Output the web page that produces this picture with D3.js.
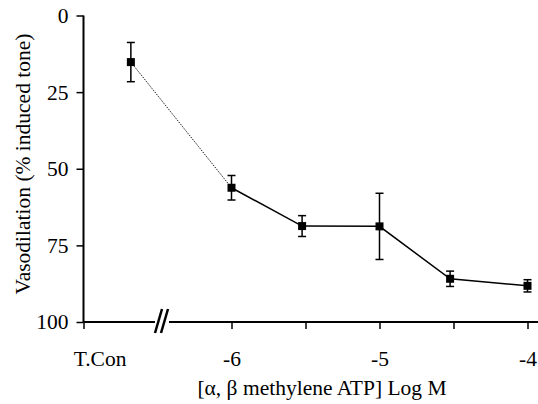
<!DOCTYPE html>
<html>
<head>
<meta charset="utf-8">
<script src="https://cdn.jsdelivr.net/npm/d3@7"></script>
</head>
<body style="margin:0">
<script>
// data
var tconX = -6.68;
var tconMean = 15.2;
var tconErr = 6.4;

var logM = [-6, -5.523, -5, -4.523, -4];
var meanTone = [56.2, 68.7, 68.8, 85.9, 88.2];
var semTone = [4.0, 3.4, 10.8, 2.5, 2.0];

var xTickVals = [-7, -6, -5.5, -5, -4.5, -4];
var xTickLabels = ["T.Con", "-6", "", "-5", "", "-4"];
var yTickVals = [0, 25, 50, 75, 100];

var fontFam = "Liberation Serif";
var fontSize = 21.5;

var svgWidth = 538;
var svgHeight = 404;

var svg = d3.select("body")
    .append("svg")
    .attr("width", svgWidth)
    .attr("height", svgHeight)
    .attr("font-family", fontFam)
    .attr("font-size", fontSize);

var xScale = d3.scaleLinear()
    .domain([-7, -4])
    .range([83.5, 527.5]);

var yScale = d3.scaleLinear()
    .domain([0, 100])
    .range([15.5, 322]);

// y axis
var leftAxis = d3.axisLeft(yScale)
    .tickValues(yTickVals)
    .tickSize(7)
    .tickPadding(8)
    .tickFormat(d3.format("d"));

var yAxisG = svg.append("g")
    .attr("transform", `translate(${xScale(-7)}, 0)`)
    .call(leftAxis);
yAxisG.attr("font-family", fontFam).attr("font-size", fontSize);
yAxisG.select(".domain").remove();
yAxisG.append("line")
    .attr("y1", yScale(0)).attr("y2", yScale(100))
    .attr("stroke", "#000").attr("stroke-width", 2);
yAxisG.selectAll(".tick line").attr("stroke-width", 1.5);

// x axis, with a break after T.Con
var bottomAxis = d3.axisBottom(xScale)
    .tickValues(xTickVals)
    .tickSize(7)
    .tickPadding(22)
    .tickFormat((d, i) => xTickLabels[i]);

var xAxisG = svg.append("g")
    .attr("transform", `translate(0, ${yScale(100)})`)
    .call(bottomAxis);
xAxisG.attr("font-family", fontFam).attr("font-size", fontSize);
xAxisG.select(".domain").remove();
xAxisG.selectAll(".tick line").attr("stroke-width", 1.5);
// T.Con label sits a little right of its tick
xAxisG.selectAll(".tick text")
    .filter(d => d === -7)
    .attr("dx", 16);

var breakAt = 155;
xAxisG.append("line")
    .attr("x1", xScale(-7)).attr("x2", breakAt)
    .attr("stroke", "#000").attr("stroke-width", 2);
xAxisG.append("line")
    .attr("x1", breakAt + 14).attr("x2", svgWidth)
    .attr("stroke", "#000").attr("stroke-width", 2);
[0, 6].forEach(off => {
    xAxisG.append("line")
        .attr("x1", breakAt + off).attr("y1", 11)
        .attr("x2", breakAt + off + 7).attr("y2", -13)
        .attr("stroke", "#000").attr("stroke-width", 2.5);
});

// dotted link from T.Con to first dose
svg.append("line")
    .attr("x1", xScale(tconX)).attr("y1", yScale(tconMean))
    .attr("x2", xScale(logM[0])).attr("y2", yScale(meanTone[0]))
    .attr("stroke", "#000")
    .attr("stroke-width", 1)
    .attr("stroke-dasharray", "1.2,1.2");

var pts = logM.map((x, i) => ({x: x, y: meanTone[i], e: semTone[i]}));

var line = d3.line()
    .x(d => xScale(d.x))
    .y(d => yScale(d.y));

svg.append("path")
    .datum(pts)
    .attr("d", line)
    .attr("fill", "none")
    .attr("stroke", "#000")
    .attr("stroke-width", 1.5);

var allPts = [{x: tconX, y: tconMean, e: tconErr}].concat(pts);

// error bars
var errG = svg.selectAll(".err")
    .data(allPts)
    .enter()
    .append("g")
    .attr("class", "err");

errG.append("line")
    .attr("x1", d => xScale(d.x)).attr("x2", d => xScale(d.x))
    .attr("y1", d => yScale(d.y - d.e)).attr("y2", d => yScale(d.y + d.e))
    .attr("stroke", "#000").attr("stroke-width", 1.5);
errG.append("line")
    .attr("x1", d => xScale(d.x) - 4).attr("x2", d => xScale(d.x) + 4)
    .attr("y1", d => yScale(d.y - d.e)).attr("y2", d => yScale(d.y - d.e))
    .attr("stroke", "#000").attr("stroke-width", 1.5);
errG.append("line")
    .attr("x1", d => xScale(d.x) - 4).attr("x2", d => xScale(d.x) + 4)
    .attr("y1", d => yScale(d.y + d.e)).attr("y2", d => yScale(d.y + d.e))
    .attr("stroke", "#000").attr("stroke-width", 1.5);

// square markers
svg.selectAll(".pt")
    .data(allPts)
    .enter()
    .append("rect")
    .attr("class", "pt")
    .attr("x", d => xScale(d.x) - 4)
    .attr("y", d => yScale(d.y) - 4)
    .attr("width", 8)
    .attr("height", 8)
    .attr("fill", "#000");

// axis titles
svg.append("text")
    .attr("transform", "translate(30, 164) rotate(-90)")
    .attr("text-anchor", "middle")
    .text("Vasodilation (% induced tone)");

svg.append("text")
    .attr("x", 322)
    .attr("y", 395)
    .attr("text-anchor", "middle")
    .text("[α, β methylene ATP] Log M");
</script>
</body>
</html>
